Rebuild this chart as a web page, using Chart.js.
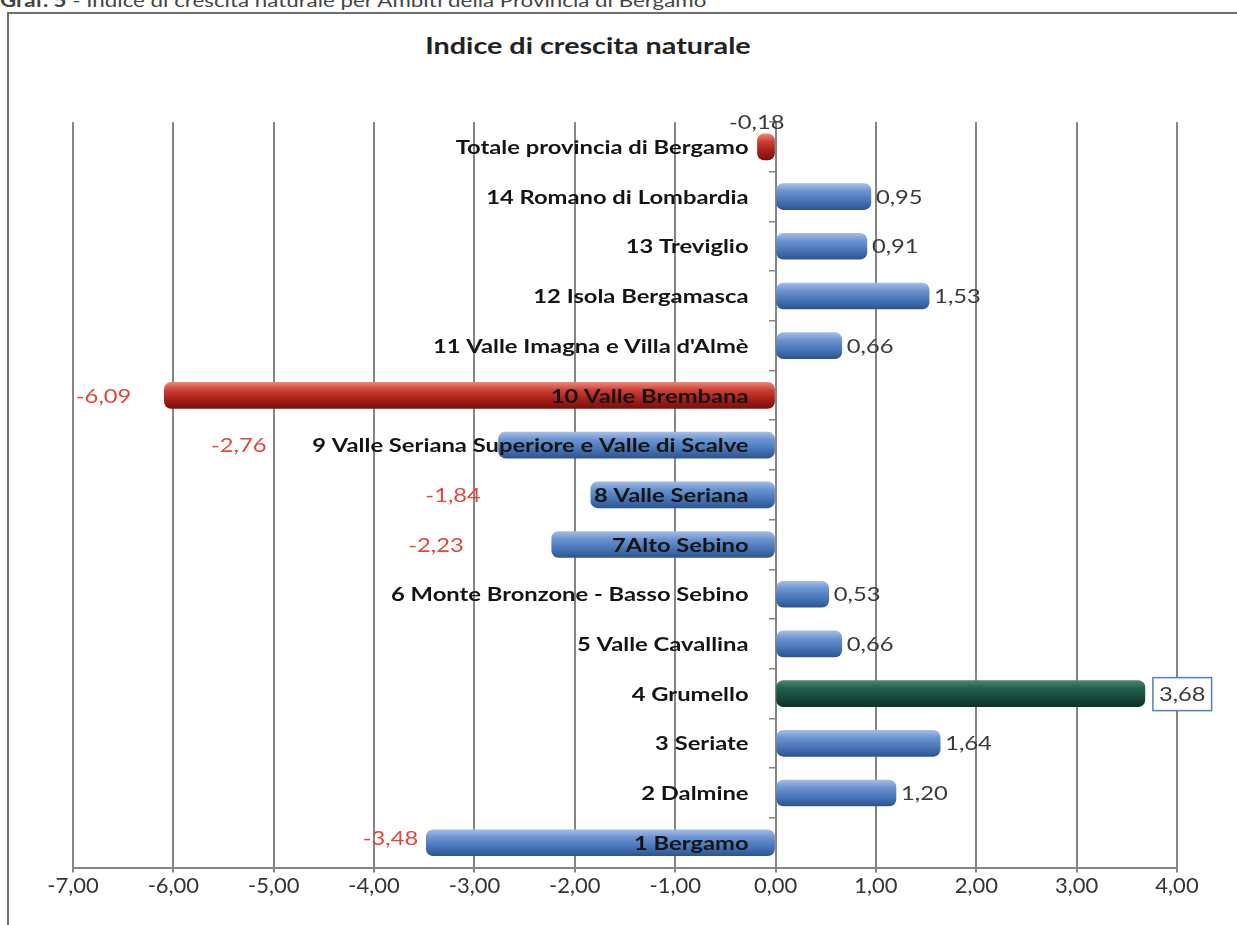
<!DOCTYPE html>
<html>
<head>
<meta charset="utf-8">
<script src="https://cdn.jsdelivr.net/npm/chart.js@4.4.1/dist/chart.umd.min.js"></script>
<style>
html, body { margin: 0; padding: 0; background: #fff; overflow: hidden; }
body { width: 1237px; height: 925px; position: relative; font-family: Lato, "Noto Sans", sans-serif; }
#caption { position: absolute; left: 0; top: -11px; font-size: 18px; color: #444; white-space: nowrap; transform: scaleX(1.24); transform-origin: 0 0; }
#frame { position: absolute; left: 7px; top: 12px; width: 1300px; height: 1000px; border: 2px solid #6e6e6e; }
#title { position: absolute; top: 31px; left: 0; width: 1176px; text-align: center; font-weight: bold; font-size: 23px; color: #222; transform: scaleX(1.25); transform-origin: 588px 0; }
#wrap { position: absolute; left: 0; top: 0; width: 1237px; height: 925px; }
</style>
</head>
<body>
<div id="caption"><b>Graf. 5</b> - Indice di crescita naturale per Ambiti della Provincia di Bergamo</div>
<div id="frame"></div>
<div id="title">Indice di crescita naturale</div>
<div id="wrap"><canvas id="chart"></canvas></div>
<script>
// data, top to bottom as in the picture
const categories = [
    'Totale provincia di Bergamo',
    '14 Romano di Lombardia',
    '13 Treviglio',
    '12 Isola Bergamasca',
    "11 Valle Imagna e Villa d'Almè",
    '10 Valle Brembana',
    '9 Valle Seriana Superiore e Valle di Scalve',
    '8 Valle Seriana',
    '7Alto Sebino',
    '6 Monte Bronzone - Basso Sebino',
    '5 Valle Cavallina',
    '4 Grumello',
    '3 Seriate',
    '2 Dalmine',
    '1 Bergamo'
];
const values = [-0.18, 0.95, 0.91, 1.53, 0.66, -6.09, -2.76, -1.84, -2.23, 0.53, 0.66, 3.68, 1.64, 1.20, -3.48];
const xMin = -7, xMax = 4, xStep = 1;

// styling
const redBars = ['Totale provincia di Bergamo', '10 Valle Brembana'];
const greenBars = ['4 Grumello'];
const boxedLabels = ['4 Grumello'];
// hand placed value labels (px nudges, like in the original sheet)
const labelNudge = {
    0: [35, -25],
    5: [-25, 0],
    6: [-224, 0],
    7: [-102, 0],
    8: [-80, 0],
    14: [0, -5]
};
const stretch = 1.25;   // the scan is wider than tall
const labelGap = 27;

const fmt = v => v.toFixed(2).replace('.', ',');

const palettes = {
    blue:  ['#a3bde6', '#6a93d0', '#4876b8', '#2d5490'],
    red:   ['#ec8475', '#cc3f34', '#a8201a', '#77110d'],
    green: ['#4a8571', '#21604d', '#164a3a', '#0d3227']
};

function paletteFor(i) {
    if (redBars.includes(categories[i])) return palettes.red;
    if (greenBars.includes(categories[i])) return palettes.green;
    return palettes.blue;
}

const barThick = 26;

function barFill(c) {
    const chart = c.chart;
    const p = paletteFor(c.dataIndex);
    const ys = chart.scales.y;
    if (!ys || !chart.chartArea) return p[2];
    const yc = ys.getPixelForValue(c.dataIndex);
    const g = chart.ctx.createLinearGradient(0, yc - barThick / 2, 0, yc + barThick / 2);
    g.addColorStop(0, p[0]);
    g.addColorStop(0.3, p[1]);
    g.addColorStop(0.65, p[2]);
    g.addColorStop(1, p[3]);
    return g;
}

// category names sit over the bars, right aligned near the zero line
const categoryLabels = {
    id: 'categoryLabels',
    afterDatasetsDraw(chart) {
        const {ctx, scales: {x, y}} = chart;
        const right = x.getPixelForValue(0) - labelGap;
        ctx.save();
        ctx.font = 'bold 19px Lato, "Noto Sans", sans-serif';
        ctx.fillStyle = '#141414';
        ctx.textAlign = 'right';
        ctx.textBaseline = 'middle';
        ctx.scale(stretch, 1);
        categories.forEach((c, i) => {
            ctx.fillText(c, right / stretch, y.getPixelForValue(i) + 1);
        });
        ctx.restore();
    }
};

// value labels next to the bars
const valueLabels = {
    id: 'valueLabels',
    afterDatasetsDraw(chart) {
        const ctx = chart.ctx;
        const meta = chart.getDatasetMeta(0);
        ctx.save();
        ctx.font = '19px Lato, "Noto Sans", sans-serif';
        ctx.textBaseline = 'middle';
        ctx.textAlign = 'left';
        meta.data.forEach((bar, i) => {
            const v = values[i];
            const txt = fmt(v);
            const w = ctx.measureText(txt).width * stretch;
            let x = v >= 0 ? bar.x + 5 : bar.x - 8 - w;
            let y = bar.y;
            const boxed = boxedLabels.includes(categories[i]);
            if (boxed) x += 9;
            if (labelNudge[i]) { x += labelNudge[i][0]; y += labelNudge[i][1]; }
            if (boxed) {
                ctx.fillStyle = '#fff';
                ctx.fillRect(x - 6, y - 16, w + 12, 33);
                ctx.strokeStyle = '#4f81bd';
                ctx.lineWidth = 1.5;
                ctx.strokeRect(x - 6, y - 16, w + 12, 33);
            }
            ctx.fillStyle = (v < 0 && i !== 0) ? '#e0483c' : '#3a3a3a';
            ctx.save();
            ctx.scale(stretch, 1);
            ctx.fillText(txt, x / stretch, y + 1);
            ctx.restore();
        });
        ctx.restore();
    }
};

const ctx = document.getElementById('chart').getContext('2d');
new Chart(ctx, {
    type: 'bar',
    data: {
        labels: categories,
        datasets: [{
            label: 'Indice di crescita naturale',
            data: values,
            backgroundColor: barFill,
            borderWidth: 0,
            borderRadius: 7,
            borderSkipped: false,
            barThickness: barThick
        }]
    },
    options: {
        indexAxis: 'y',
        responsive: true,
        maintainAspectRatio: false,
        animation: false,
        layout: { padding: { left: 73, right: 60, top: 122, bottom: 26 } },
        plugins: {
            legend: { display: false },
            title: { display: false },
            tooltip: { enabled: false }
        },
        scales: {
            x: {
                min: xMin,
                max: xMax,
                ticks: {
                    stepSize: xStep,
                    callback: v => fmt(v),
                    color: '#333',
                    font: { family: 'Lato', size: 22 },
                    padding: 0
                },
                grid: { color: '#858585', lineWidth: 2, tickLength: 5 },
                border: { color: '#858585', width: 2 }
            },
            y: {
                position: { x: 0 },
                grid: { drawOnChartArea: false, color: '#858585', lineWidth: 1.5, tickLength: 6 },
                border: { color: '#858585', width: 2 },
                ticks: { display: false, autoSkip: false }
            }
        }
    },
    plugins: [categoryLabels, valueLabels]
});
</script>
</body>
</html>
